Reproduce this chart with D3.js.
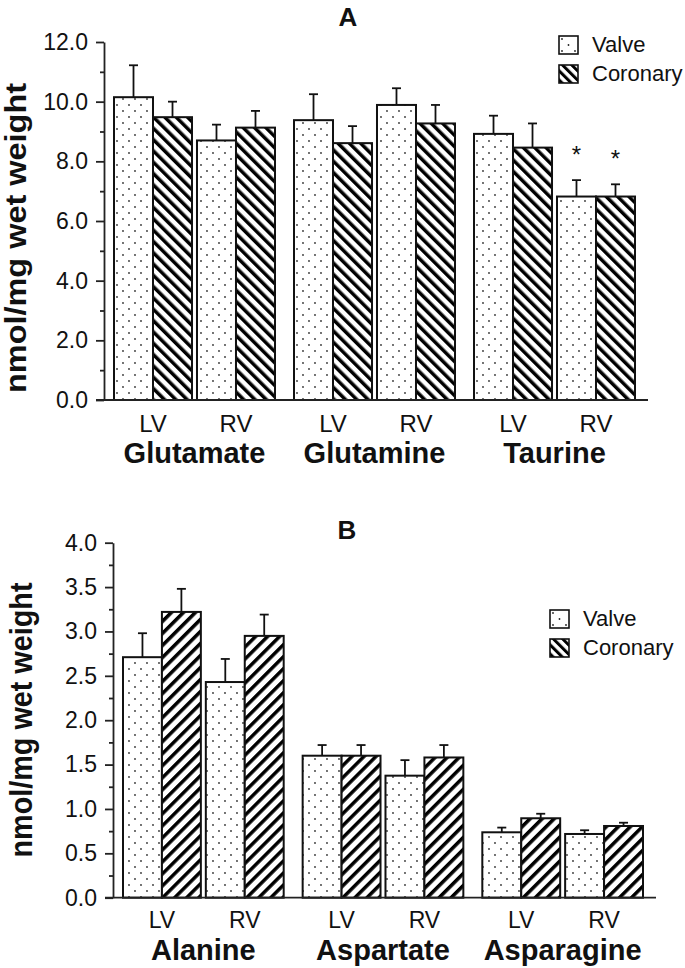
<!DOCTYPE html>
<html>
<head>
<meta charset="utf-8">
<script src="https://cdn.jsdelivr.net/npm/d3@7"></script>
<style>
  html, body { margin: 0; padding: 0; background: #fff; }
  svg { display: block; }
  text { font-family: "Liberation Sans", Arial, Helvetica, sans-serif; fill: #111; }
</style>
</head>
<body>
<div id="chart"></div>
<script>
// ---------- DATA ----------
const sides = ["LV", "RV"];
const series = ["Valve", "Coronary"];

// Panel A
const groupsA = ["Glutamate", "Glutamine", "Taurine"];
// order: Glutamate LV, Glutamate RV, Glutamine LV, Glutamine RV, Taurine LV, Taurine RV
const valveA = [10.15, 8.70, 9.38, 9.89, 8.92, 6.82];
const valveErrA = [1.07, 0.53, 0.87, 0.56, 0.61, 0.55];
const coronaryA = [9.48, 9.13, 8.61, 9.27, 8.46, 6.82];
const coronaryErrA = [0.52, 0.56, 0.57, 0.62, 0.81, 0.41];
const starA = [0, 0, 0, 0, 0, 1];
const yTicksA = [0, 2, 4, 6, 8, 10, 12];
const yMinorA = [1, 3, 5, 7, 9, 11];

// Panel B
const groupsB = ["Alanine", "Aspartate", "Asparagine"];
const valveB = [2.71, 2.43, 1.60, 1.375, 0.737, 0.718];
const valveErrB = [0.27, 0.26, 0.12, 0.175, 0.053, 0.042];
const coronaryB = [3.22, 2.95, 1.60, 1.58, 0.895, 0.808];
const coronaryErrB = [0.26, 0.24, 0.12, 0.14, 0.051, 0.037];
const starB = [0, 0, 0, 0, 0, 0];
const yTicksB = [0, 0.5, 1.0, 1.5, 2.0, 2.5, 3.0, 3.5, 4.0];
const yMinorB = [0.25, 0.75, 1.25, 1.75, 2.25, 2.75, 3.25, 3.75];

const yLabel = "nmol/mg wet weight";

// ---------- SETUP ----------
const W = 685, H = 968;
const svg = d3.select("#chart").append("svg").attr("width", W).attr("height", H);
const defs = svg.append("defs");

// dotted pattern (Valve)
const dots = defs.append("pattern").attr("id", "dots")
  .attr("patternUnits", "userSpaceOnUse").attr("width", 12).attr("height", 12);
dots.append("rect").attr("width", 12).attr("height", 12).attr("fill", "#fff");
dots.append("circle").attr("cx", 3).attr("cy", 3).attr("r", 0.9).attr("fill", "#333");
dots.append("circle").attr("cx", 9).attr("cy", 9).attr("r", 0.9).attr("fill", "#333");

function hatch(id, angle, size, sw) {
  const p = defs.append("pattern").attr("id", id)
    .attr("patternUnits", "userSpaceOnUse").attr("width", size).attr("height", size)
    .attr("patternTransform", `rotate(${angle})`);
  p.append("rect").attr("width", size).attr("height", size).attr("fill", "#fff");
  p.append("rect").attr("x", 0).attr("width", sw).attr("height", size).attr("fill", "#000");
}
hatch("hatchBack", -45, 8, 3.5);   // "\" stripes
hatch("hatchFwd", 45, 8.5, 3.5);   // "/" stripes
hatch("legendBack", -45, 6.5, 3.0);

const legendDots = defs.append("pattern").attr("id", "legendDots")
  .attr("patternUnits", "objectBoundingBox").attr("width", 1).attr("height", 1);
legendDots.append("rect").attr("width", 19).attr("height", 18).attr("fill", "#fff");
[[3, 3], [9.5, 9], [16, 15], [3, 15]].forEach(([cx, cy]) =>
  legendDots.append("circle").attr("cx", cx).attr("cy", cy).attr("r", 0.9).attr("fill", "#222"));

function panel(cfg) {
  const g = svg.append("g");
  const y = d3.scaleLinear().domain(cfg.yDomain).range(cfg.yRange);
  const xG = d3.scaleBand().domain(cfg.groups).range(cfg.xRange).paddingInner(0.1056).paddingOuter(0);
  const xS = d3.scaleBand().domain(sides).range([0, xG.bandwidth()]).paddingInner(0.06).paddingOuter(0);
  const xV = d3.scaleBand().domain(series).range([0, xS.bandwidth()]).padding(0);

  const rows = [];
  cfg.groups.forEach((grp, gi) => sides.forEach((sd, si) => {
    const i = gi * 2 + si;
    rows.push({grp, sd, s: "Valve", v: cfg.valve[i], e: cfg.valveErr[i], star: cfg.star[i]});
    rows.push({grp, sd, s: "Coronary", v: cfg.coronary[i], e: cfg.coronaryErr[i], star: cfg.star[i]});
  }));
  const bx = d => xG(d.grp) + xS(d.sd) + xV(d.s);

  // error bars
  const eb = g.append("g").attr("stroke", "#111").attr("stroke-width", 1.8);
  rows.forEach(d => {
    const cx = bx(d) + xV.bandwidth() / 2;
    eb.append("line").attr("x1", cx).attr("x2", cx).attr("y1", y(d.v)).attr("y2", y(d.v + d.e));
    eb.append("line").attr("x1", cx - 4.5).attr("x2", cx + 4.5).attr("y1", y(d.v + d.e)).attr("y2", y(d.v + d.e));
  });

  // bars
  g.append("g").selectAll("rect").data(rows).join("rect")
    .attr("x", d => bx(d))
    .attr("y", d => y(d.v))
    .attr("width", xV.bandwidth())
    .attr("height", d => y(0) - y(d.v))
    .attr("fill", d => d.s === "Valve" ? "url(#dots)" : `url(#${cfg.hatch})`)
    .attr("stroke", "#111").attr("stroke-width", 2);

  // significance stars
  rows.filter(d => d.star).forEach(d => {
    const cx = bx(d) + xV.bandwidth() / 2;
    g.append("text").attr("x", cx).attr("y", y(d.v + d.e) - 17)
      .attr("text-anchor", "middle").style("font-size", "24px").text("*");
  });

  // y axis
  const ax = g.append("g").attr("transform", `translate(${cfg.axisX},0)`);
  ax.call(d3.axisLeft(y).tickValues(cfg.ticks).tickFormat(d3.format(".1f")).tickSize(8).tickSizeOuter(0).tickPadding(8));
  ax.append("g").call(d3.axisLeft(y).tickValues(cfg.minor).tickFormat("").tickSize(4).tickSizeOuter(0))
    .select(".domain").remove();
  ax.selectAll(".domain, line").attr("stroke", "#222").attr("stroke-width", 1.8);
  ax.selectAll("text").style("font-size", "23px").attr("fill", "#111")
    .style("font-family", '"Liberation Sans", Arial, sans-serif');

  // x axis baseline
  g.append("line").attr("x1", cfg.axisX - 8).attr("x2", cfg.xRange[1] + 13)
    .attr("y1", y(0)).attr("y2", y(0)).attr("stroke", "#222").attr("stroke-width", 1.8);

  // side labels & group labels
  cfg.groups.forEach(grp => {
    sides.forEach(sd => {
      g.append("text").attr("x", xG(grp) + xS(sd) + xS.bandwidth() / 2).attr("y", cfg.sideY)
        .attr("text-anchor", "middle").style("font-size", cfg.sideFont + "px").text(sd);
    });
    g.append("text").attr("x", xG(grp) + xG.bandwidth() / 2).attr("y", cfg.groupY)
      .attr("text-anchor", "middle").style("font-size", "29px").style("font-weight", "bold").text(grp);
  });

  // y label
  g.append("text").attr("transform", `translate(${cfg.labelX},${cfg.labelY}) rotate(-90)`)
    .attr("text-anchor", "middle").style("font-size", cfg.labelFont + "px").style("font-weight", "bold")
    .attr("textLength", cfg.labelLen).attr("lengthAdjust", "spacingAndGlyphs").text(yLabel);

  // title
  g.append("text").attr("x", cfg.titleX).attr("y", cfg.titleY).attr("text-anchor", "middle")
    .style("font-size", "26px").style("font-weight", "bold").text(cfg.title);

  // legend
  const lg = g.append("g").attr("transform", `translate(${cfg.legend[0]},${cfg.legend[1]})`);
  series.forEach((s, i) => {
    lg.append("rect").attr("x", 0).attr("y", i * 29).attr("width", 19).attr("height", 18)
      .attr("fill", s === "Valve" ? "url(#legendDots)" : "url(#legendBack)")
      .attr("stroke", "#111").attr("stroke-width", 1.6);
    lg.append("text").attr("x", 33).attr("y", i * 29 + 16).style("font-size", "22px").text(s);
  });
}

panel({
  title: "A", titleX: 348, titleY: 26,
  groups: groupsA, valve: valveA, valveErr: valveErrA, coronary: coronaryA, coronaryErr: coronaryErrA, star: starA,
  yDomain: [0, 12], yRange: [400, 42], ticks: yTicksA, minor: yMinorA,
  xRange: [114, 635], axisX: 104, hatch: "hatchBack",
  sideY: 432, sideFont: 24, groupY: 463,
  labelX: 26, labelY: 238, labelFont: 30, labelLen: 310,
  legend: [559, 36]
});

panel({
  title: "B", titleX: 347, titleY: 539,
  groups: groupsB, valve: valveB, valveErr: valveErrB, coronary: coronaryB, coronaryErr: coronaryErrB, star: starB,
  yDomain: [0, 4], yRange: [897.7, 542.7], ticks: yTicksB, minor: yMinorB,
  xRange: [123, 643], axisX: 113, hatch: "hatchFwd",
  sideY: 928, sideFont: 23, groupY: 960,
  labelX: 32, labelY: 720, labelFont: 32, labelLen: 275,
  legend: [550, 610]
});
</script>
</body>
</html>
